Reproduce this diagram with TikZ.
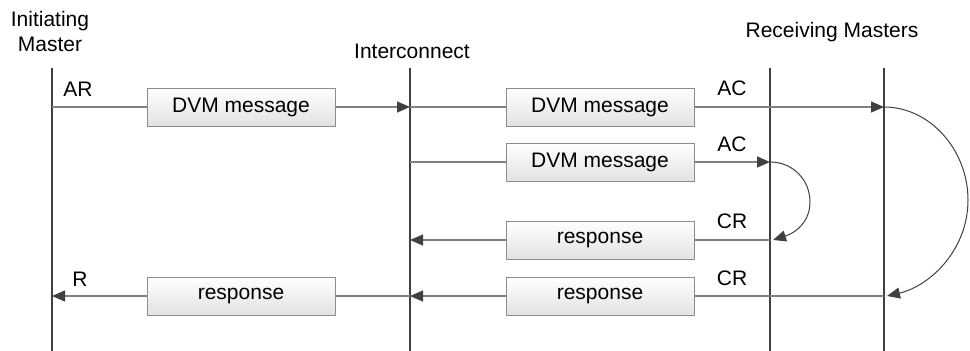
\documentclass[tikz,border=0pt]{standalone}
\usepackage{fontspec}
\setmainfont{Liberation Sans}
\usetikzlibrary{arrows.meta}
\definecolor{lifec}{HTML}{404040}
\definecolor{msgc}{HTML}{808080}
\definecolor{boxc}{HTML}{8C8C8C}
\definecolor{boxbot}{HTML}{E2E2E2}
\begin{document}
\begin{tikzpicture}[x=1pt,y=-1pt,
  every node/.style={font=\fontsize{21}{25}\selectfont, inner sep=0pt},
  life/.style={draw=lifec, line width=2.8pt},
  msg/.style={draw=msgc, line width=1.4pt, -{Triangle[length=13,width=11,color=lifec]}},
  loopc/.style={draw=lifec, line width=1pt, -{Triangle[length=13,width=11,color=lifec]}},
  msgbox/.style={draw=boxc, line width=1pt, minimum width=188pt, minimum height=38pt,
     top color=white, bottom color=boxbot},
  lbl/.style={anchor=center}]
\useasboundingbox (0,0) rectangle (970,351);
% titles
\node[lbl, align=center] (tInit) at (50,31) {Initiating\\Master};
\node[lbl] (tInter) at (412,51) {Interconnect};
\node[lbl] (tRecv) at (832,32) {Receiving Masters};
% lifelines
\coordinate (IT) at (52,68);  \coordinate (IB) at (52,351);
\coordinate (NT) at (410,68); \coordinate (NB) at (410,351);
\coordinate (AT) at (770,68); \coordinate (AB) at (770,351);
\coordinate (BT) at (884,68); \coordinate (BB) at (884,351);
\draw[life] (IT) -- (IB);
\draw[life] (NT) -- (NB);
\draw[life] (AT) -- (AB);
\draw[life] (BT) -- (BB);
% row points
\coordinate (I1) at (52,107);  \coordinate (N1) at (410,107); \coordinate (B1) at (884,107);
\coordinate (N2) at (410,162); \coordinate (A2) at (770,162);
\coordinate (N3) at (410,240); \coordinate (A3) at (770,240); \coordinate (A3e) at (773,240);
\coordinate (I4) at (52,296);  \coordinate (N4) at (410,296); \coordinate (B4) at (884,296); \coordinate (B4e) at (887,296);
\coordinate (Amax) at (810,202);
\coordinate (Bmax) at (968,200);
% messages
\draw[msg] (I1) -- (N1);
\draw[msg] (N1) -- (B1);
\draw[msg] (N2) -- (A2);
\draw[msg] (A3) -- (N3);
\draw[msg] (B4) -- (N4);
\draw[msg] (N4) -- (I4);
% loops
\draw[loopc] (A2) .. controls (793,162) and (810,180) .. (Amax)
   .. controls (810,220) and (798,232) .. (A3e);
\draw[loopc] (B1) .. controls (930,107) and (968,150) .. (Bmax)
   .. controls (968,250) and (930,286) .. (B4e);
% boxes
\node[msgbox] (m1) at (241,107) {DVM message};
\node[msgbox] (m2) at (600,107) {DVM message};
\node[msgbox] (m3) at (600,162) {DVM message};
\node[msgbox] (m4) at (600,240) {response};
\node[msgbox] (m5) at (600,296) {response};
\node[msgbox] (m6) at (241,296) {response};
% labels
\node[lbl] (lAR) at (78,89) {AR};
\node[lbl] (lAC1) at (732,88) {AC};
\node[lbl] (lAC2) at (732,144) {AC};
\node[lbl] (lCR1) at (732,221) {CR};
\node[lbl] (lCR2) at (732,278) {CR};
\node[lbl] (lR) at (80,279) {R};
\end{tikzpicture}
\end{document}
